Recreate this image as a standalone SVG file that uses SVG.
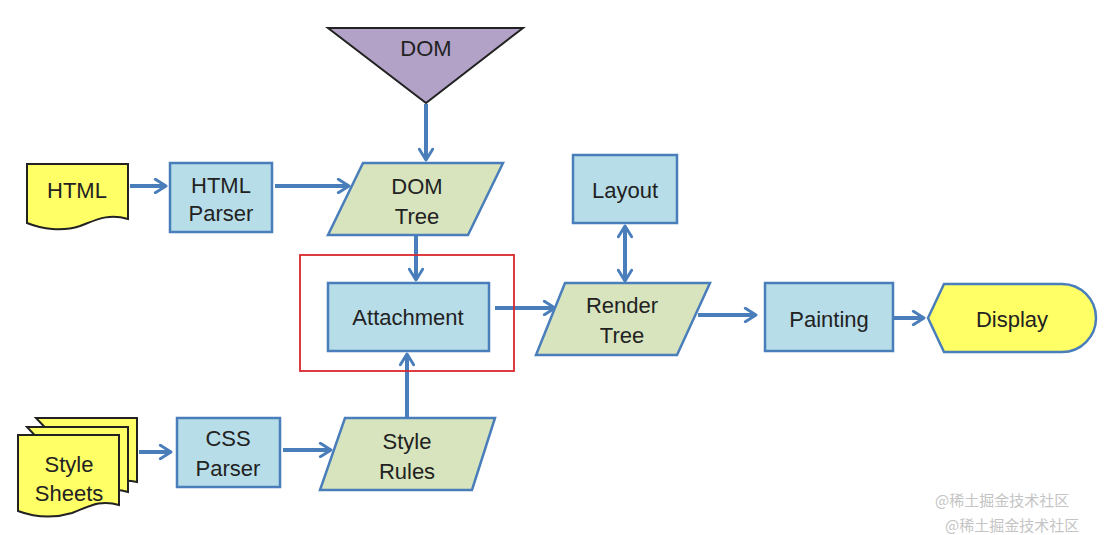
<svg xmlns="http://www.w3.org/2000/svg" width="1109" height="535" viewBox="0 0 1109 535">
<style>
.t{font-family:"Liberation Sans",Arial,sans-serif;font-size:22px;fill:#222;text-anchor:middle}
.box{fill:#b7dde8;stroke:#4a7ebb;stroke-width:2.5}
.para{fill:#d7e4bd;stroke:#4a7ebb;stroke-width:2.5}
.doc{fill:#ffff66;stroke:#222;stroke-width:2}
.c{stroke:#4a7ebb;stroke-width:4;fill:none}
.wm{font-family:"Noto Sans CJK SC",sans-serif;font-size:15px;fill:#c4c4c4}
</style>
<defs>
<marker id="ah" viewBox="0 0 12 12" refX="10" refY="6" markerWidth="4" markerHeight="4" orient="auto-start-reverse" markerUnits="strokeWidth">
<path d="M2,1 L10,6 L2,11" fill="none" stroke="#4a7ebb" stroke-width="2.2" stroke-linecap="round" stroke-linejoin="round"/>
</marker>
</defs>
<rect width="1109" height="535" fill="#fff"/>
<g id="connectors">
<line class="c" x1="130" y1="186" x2="166" y2="186" marker-end="url(#ah)"/>
<line class="c" x1="275" y1="186" x2="349" y2="186" marker-end="url(#ah)"/>
<line class="c" x1="426" y1="104" x2="426" y2="160" marker-end="url(#ah)"/>
<line class="c" x1="416" y1="236" x2="416" y2="280" marker-end="url(#ah)"/>
<line class="c" x1="407" y1="418" x2="407" y2="354" marker-end="url(#ah)"/>
<line class="c" x1="495" y1="308" x2="555" y2="308" marker-end="url(#ah)"/>
<line class="c" x1="625" y1="226" x2="625" y2="281" marker-start="url(#ah)" marker-end="url(#ah)"/>
<line class="c" x1="698" y1="315" x2="756" y2="315" marker-end="url(#ah)"/>
<line class="c" x1="894" y1="318" x2="924" y2="318" marker-end="url(#ah)"/>
<line class="c" x1="139" y1="452" x2="171" y2="452" marker-end="url(#ah)"/>
<line class="c" x1="283" y1="450" x2="331" y2="450" marker-end="url(#ah)"/>
</g>
<g id="html">
<path class="doc" d="M27,164 H128 V219 C108,213 96,220 80,226 C62,232 42,229 27,223 Z"/>
<text class="t" x="77" y="198">HTML</text>
</g>
<g id="html-parser">
<rect class="box" x="170" y="163" width="102" height="69"/>
<text class="t" x="221" y="193">HTML</text>
<text class="t" x="221" y="221">Parser</text>
</g>
<g id="dom">
<polygon points="328,28 523,28 426,103" fill="#b2a2c7" stroke="#222" stroke-width="2"/>
<text class="t" x="426" y="56">DOM</text>
</g>
<g id="dom-tree">
<polygon class="para" points="363,163 503,163 468,235 328,235"/>
<text class="t" x="417" y="194">DOM</text>
<text class="t" x="417" y="224">Tree</text>
</g>
<g id="attachment">
<rect x="300" y="255" width="214" height="116" fill="none" stroke="#d9272e" stroke-width="1.8"/>
<rect class="box" x="328" y="283" width="161" height="68"/>
<text class="t" x="408" y="325">Attachment</text>
</g>
<g id="layout">
<rect class="box" x="573" y="155" width="104" height="68"/>
<text class="t" x="625" y="198">Layout</text>
</g>
<g id="render-tree">
<polygon class="para" points="565,283 710,283 677,355 536,355"/>
<text class="t" x="622" y="313">Render</text>
<text class="t" x="622" y="343">Tree</text>
</g>
<g id="painting">
<rect class="box" x="765" y="283" width="128" height="68"/>
<text class="t" x="829" y="327">Painting</text>
</g>
<g id="display">
<path d="M928,318 L944,284 H1062 A34,34 0 0 1 1062,352 H944 Z" fill="#ffff66" stroke="#4a7ebb" stroke-width="2.5"/>
<text class="t" x="1012" y="327">Display</text>
</g>
<g id="style-sheets">
<path class="doc" d="M36,418 H137 V482 C120,478 108,484 95,488 L95,480 Z"/>
<path class="doc" d="M27,427 H128 V492 C112,487 100,493 86,497 L86,490 Z"/>
<path class="doc" d="M18,435 H119 V505 C100,499 88,507 72,513 C52,519 34,517 18,511 Z"/>
<text class="t" x="69" y="472">Style</text>
<text class="t" x="69" y="501">Sheets</text>
</g>
<g id="css-parser">
<rect class="box" x="177" y="418" width="103" height="69"/>
<text class="t" x="228" y="446">CSS</text>
<text class="t" x="228" y="476">Parser</text>
</g>
<g id="style-rules">
<polygon class="para" points="345,418 495,418 472,490 320,490"/>
<text class="t" x="407" y="449">Style</text>
<text class="t" x="407" y="479">Rules</text>
</g>
<g id="watermark">
<text class="wm" x="935" y="506">@稀土掘金技术社区</text>
<text class="wm" x="945" y="531">@稀土掘金技术社区</text>
</g>
</svg>
